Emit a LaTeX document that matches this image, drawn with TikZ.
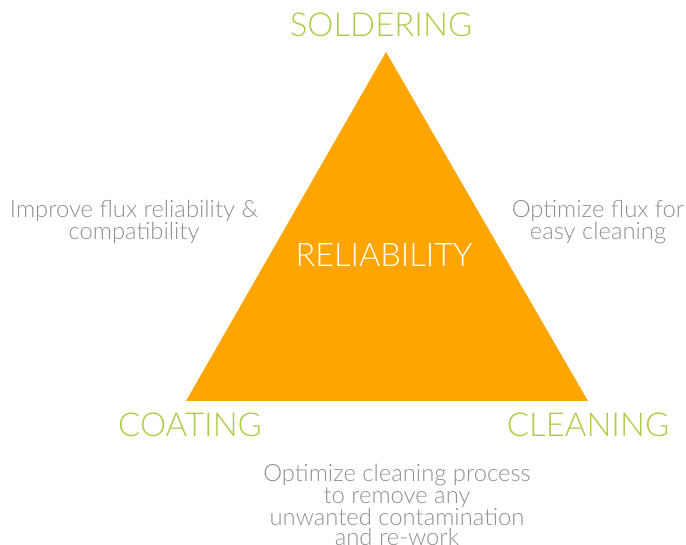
\documentclass[tikz,border=0pt]{standalone}
\usepackage{fontspec}
\setmainfont{Lato}[UprightFont={* Light}]
\usepackage{xcolor}
\definecolor{triorange}{HTML}{FFA500}
\definecolor{topicgreen}{HTML}{AECB45}
\definecolor{notegray}{HTML}{909090}
\tikzset{
  topic/.style={text=topicgreen, font=\fontsize{33}{36}\selectfont, inner sep=0pt, anchor=base},
  note/.style={text=notegray, font=\fontsize{23.8}{19.3}\selectfont, align=center, inner sep=0pt}
}

\begin{document}
\begin{tikzpicture}[x=1pt, y=-1pt]
  \useasboundingbox (0,0) rectangle (686,545);

  \coordinate (T) at (386,52);  %apex
  \coordinate (L) at (186,401); %left
  \coordinate (R) at (588,401); %right
  \fill[triorange] (T) -- (L) -- (R) -- cycle;

  \node[topic] (sold) at (381,37) {SOLDERING};
  \node[topic] (coat) at (190,436) {COATING};
  \node[topic] (clean) at (588,436) {CLEANING};
  \node[topic, text=white, font=\fontsize{32.5}{35}\selectfont] (rel) at (384,267) {RELIABILITY};

  \node[note] (left) at (134,222) {Improve flux reliability \&\\compatibility};
  \node[note] (right) at (598,222) {Optimize flux for\\easy cleaning};
  \node[note] (bottom) at (397,505) {Optimize cleaning process\\to remove any\\unwanted contamination\\and re-work};

\end{tikzpicture}
\end{document}
